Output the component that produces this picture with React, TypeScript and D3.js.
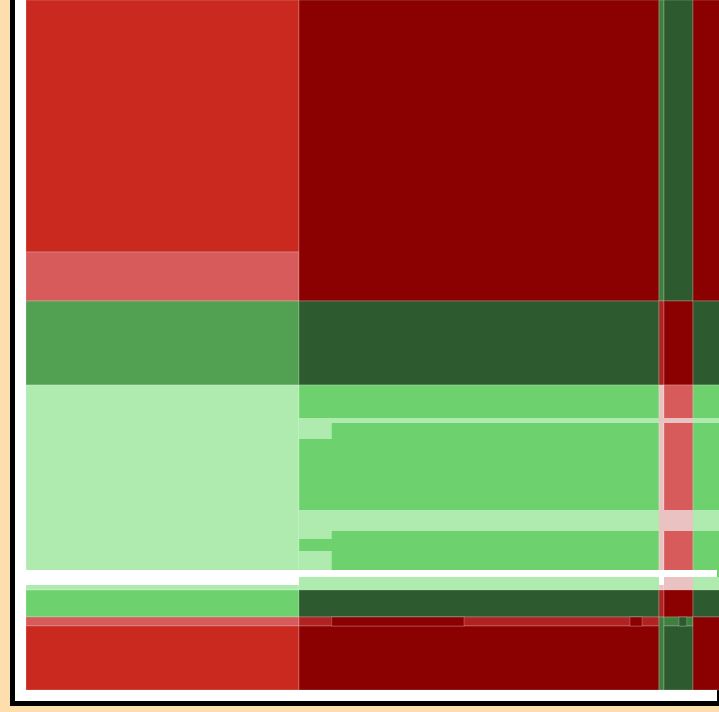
import React from "react";
import * as d3 from "d3";

// Mosaic column weights (A..E) and row weights (r1..r7)
const columns = ["A", "B", "C", "D", "E"];
const colWeights = [273, 360, 5, 29, 37];
const rows = ["r1", "r2", "r3", "r4", "r5", "r6", "r7"];
const rowWeights = [252, 49, 84, 205, 27, 9, 64];

// Cell tone per row (rows) x column
const cellTones = [
  ["red", "darkred", "midgreen", "darkgreen", "darkred"],
  ["lightred", "darkred", "midgreen", "darkgreen", "darkred"],
  ["green2", "darkgreen", "firebrick", "darkred", "darkgreen"],
  ["lightgreen", "green", "pink", "lightred", "green"],
  ["green", "darkgreen", "firebrick", "darkred", "darkgreen"],
  ["lightred", "firebrick", "midgreen", "midgreen", "darkred"],
  ["red", "darkred", "midgreen", "darkgreen", "darkred"],
];

// Sub-cell segments in mosaic units: [x0, x1, y0, y1, tone]
const segX0 = [273, 667, 633, 273, 273, 667, 633, 273, 273, 0, 0, 633, 273, 667, 638, 305.7, 604, 653];
const segX1 = [633, 704, 667, 305.7, 633, 704, 667, 305.7, 305.7, 691, 273, 638, 633, 704, 667, 438, 616, 660.7];
const segY0 = [418, 418, 418, 423, 510, 510, 510, 531, 551, 570, 577, 577, 577, 577, 577, 617, 617, 617];
const segY1 = [423, 423, 423, 439, 531, 531, 531, 539, 570, 577, 585, 585, 590, 590, 590, 626, 626, 626];
const segTone = ["lightgreen", "lightgreen", "pink", "lightgreen", "lightgreen", "lightgreen", "pink", "lightgreen", "lightgreen", "white", "white", "white", "lightgreen", "lightgreen", "pink", "darkred", "darkred", "darkgreen"];

const palette: Record<string, string> = {
  red: "#C9291F",
  darkred: "#8B0000",
  lightred: "#D75B5B",
  firebrick: "#B22222",
  darkgreen: "#2D5A2E",
  midgreen: "#3E7F3E",
  green2: "#52A052",
  green: "#6DD26E",
  lightgreen: "#AFEBAF",
  pink: "#EBC2C2",
  white: "#FFFFFF",
};

export default function App() {
  const W = 719;
  const H = 712;
  const colTotal = d3.sum(colWeights);
  const rowTotal = d3.sum(rowWeights);
  const x = d3.scaleLinear().domain([0, colTotal]).range([26, 26 + colTotal]);
  const y = d3.scaleLinear().domain([0, rowTotal]).range([0, 690]);
  const colStarts = d3.cumsum([0, ...colWeights]);
  const rowStarts = d3.cumsum([0, ...rowWeights]);

  // merge vertically adjacent cells of equal tone in each column
  const cells: any[] = [];
  columns.forEach((c, j) => {
    let start = 0;
    for (let i = 1; i <= rows.length; i++) {
      if (i === rows.length || cellTones[i][j] !== cellTones[start][j]) {
        cells.push({
          key: c + rows[start],
          x0: x(colStarts[j]),
          x1: x(colStarts[j + 1]),
          y0: y(rowStarts[start]),
          y1: y(rowStarts[i]),
          tone: cellTones[start][j],
        });
        start = i;
      }
    }
  });

  return (
    <svg
      width={W}
      height={H}
      style={{ position: "fixed", left: 0, top: 0, display: "block" }}
    >
      <rect x={0} y={0} width={W} height={H} fill="#FFDEAD" />
      <rect x={10} y={-10} width={712} height={716} fill="#000" />
      <rect x={15} y={-10} width={702} height={711} fill="#fff" />
      <g>
        {cells.map((d) => (
          <rect
            key={d.key}
            x={d.x0}
            y={d.y0}
            width={d.x1 - d.x0}
            height={d.y1 - d.y0}
            fill={palette[d.tone]}
            stroke="rgba(255,255,255,0.22)"
            strokeWidth={1}
          />
        ))}
      </g>
      <g>
        {segTone.map((t, i) => (
          <rect
            key={"s" + i}
            x={x(segX0[i])}
            y={y(segY0[i])}
            width={x(segX1[i]) - x(segX0[i])}
            height={y(segY1[i]) - y(segY0[i])}
            fill={palette[t]}
            stroke={t === "darkred" || t === "darkgreen" ? "rgba(255,255,255,0.22)" : "none"}
            strokeWidth={1}
          />
        ))}
      </g>
    </svg>
  );
}
